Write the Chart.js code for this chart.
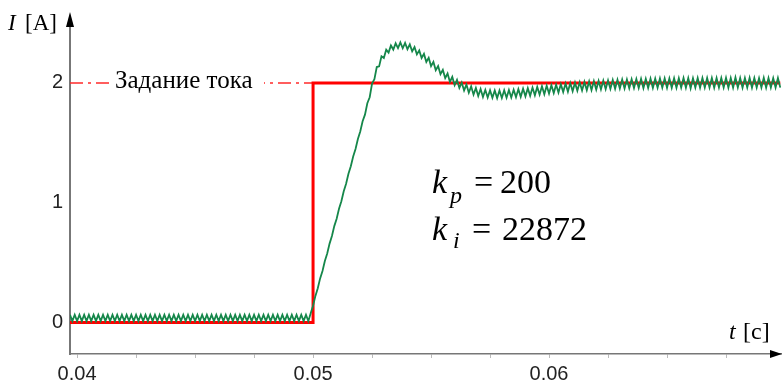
<!DOCTYPE html>
<html>
<head>
<meta charset="utf-8">
<script src="https://cdn.jsdelivr.net/npm/chart.js@4.4.1/dist/chart.umd.min.js"></script>
<style>
  html, body { margin: 0; padding: 0; background: #fff; }
  #wrap { width: 782px; height: 387px; }
</style>
</head>
<body>
<div id="wrap"><canvas id="currentChart" width="782" height="387"></canvas></div>
<script>
// Step response of the current loop (time in ms, current in A)

const timeMs = [
  39.7,39.8,39.9,40.0,40.1,40.2,40.3,40.4,40.5,40.6,
  40.7,40.8,40.9,41.0,41.1,41.2,41.3,41.4,41.5,41.6,
  41.7,41.8,41.9,42.0,42.1,42.2,42.3,42.4,42.5,42.6,
  42.7,42.8,42.9,43.0,43.1,43.2,43.3,43.4,43.5,43.6,
  43.7,43.8,43.9,44.0,44.1,44.2,44.3,44.4,44.5,44.6,
  44.7,44.8,44.9,45.0,45.1,45.2,45.3,45.4,45.5,45.6,
  45.7,45.8,45.9,46.0,46.1,46.2,46.3,46.4,46.5,46.6,
  46.7,46.8,46.9,47.0,47.1,47.2,47.3,47.4,47.5,47.6,
  47.7,47.8,47.9,48.0,48.1,48.2,48.3,48.4,48.5,48.6,
  48.7,48.8,48.9,49.0,49.1,49.2,49.3,49.4,49.5,49.6,
  49.7,49.8,49.9,50.0,50.1,50.2,50.3,50.4,50.5,50.6,
  50.7,50.8,50.9,51.0,51.1,51.2,51.3,51.4,51.5,51.6,
  51.7,51.8,51.9,52.0,52.1,52.2,52.3,52.4,52.5,52.6,
  52.7,52.8,52.9,53.0,53.1,53.2,53.3,53.4,53.5,53.6,
  53.7,53.8,53.9,54.0,54.1,54.2,54.3,54.4,54.5,54.6,
  54.7,54.8,54.9,55.0,55.1,55.2,55.3,55.4,55.5,55.6,
  55.7,55.8,55.9,56.0,56.1,56.2,56.3,56.4,56.5,56.6,
  56.7,56.8,56.9,57.0,57.1,57.2,57.3,57.4,57.5,57.6,
  57.7,57.8,57.9,58.0,58.1,58.2,58.3,58.4,58.5,58.6,
  58.7,58.8,58.9,59.0,59.1,59.2,59.3,59.4,59.5,59.6,
  59.7,59.8,59.9,60.0,60.1,60.2,60.3,60.4,60.5,60.6,
  60.7,60.8,60.9,61.0,61.1,61.2,61.3,61.4,61.5,61.6,
  61.7,61.8,61.9,62.0,62.1,62.2,62.3,62.4,62.5,62.6,
  62.7,62.8,62.9,63.0,63.1,63.2,63.3,63.4,63.5,63.6,
  63.7,63.8,63.9,64.0,64.1,64.2,64.3,64.4,64.5,64.6,
  64.7,64.8,64.9,65.0,65.1,65.2,65.3,65.4,65.5,65.6,
  65.7,65.8,65.9,66.0,66.1,66.2,66.3,66.4,66.5,66.6,
  66.7,66.8,66.9,67.0,67.1,67.2,67.3,67.4,67.5,67.6,
  67.7,67.8,67.9,68.0,68.1,68.2,68.3,68.4,68.5,68.6,
  68.7,68.8,68.9,69.0,69.1,69.2,69.3,69.4,69.5,69.6,
  69.7,69.8
];

const currentA = [
  0.065,0.012,0.065,0.012,0.065,0.012,0.065,0.012,0.065,0.012,
  0.065,0.012,0.065,0.012,0.065,0.012,0.065,0.012,0.065,0.012,
  0.065,0.012,0.065,0.012,0.065,0.012,0.065,0.012,0.065,0.012,
  0.065,0.012,0.065,0.012,0.065,0.012,0.065,0.012,0.065,0.012,
  0.065,0.012,0.065,0.012,0.065,0.012,0.065,0.012,0.065,0.012,
  0.065,0.012,0.065,0.012,0.065,0.012,0.065,0.012,0.065,0.012,
  0.065,0.012,0.065,0.012,0.065,0.012,0.065,0.012,0.065,0.012,
  0.065,0.012,0.065,0.012,0.065,0.012,0.065,0.012,0.065,0.012,
  0.065,0.012,0.065,0.012,0.065,0.012,0.065,0.012,0.065,0.012,
  0.065,0.012,0.065,0.012,0.065,0.012,0.065,0.012,0.065,0.012,
  0.065,0.012,0.078,0.14,0.223,0.286,0.369,0.431,0.514,0.577,
  0.659,0.722,0.805,0.867,0.95,1.013,1.095,1.158,1.241,1.304,
  1.386,1.449,1.532,1.595,1.68,1.735,1.83,1.88,1.995,2.03,
  2.132,2.138,2.222,2.208,2.277,2.253,2.312,2.278,2.33,2.29,
  2.338,2.289,2.334,2.281,2.321,2.263,2.299,2.238,2.271,2.208,
  2.242,2.174,2.209,2.14,2.175,2.106,2.141,2.072,2.108,2.04,
  2.078,2.008,2.05,1.981,2.025,1.958,2.003,1.937,1.986,1.918,
  1.971,1.902,1.958,1.891,1.949,1.883,1.942,1.878,1.938,1.875,
  1.937,1.873,1.937,1.874,1.939,1.876,1.941,1.878,1.943,1.881,
  1.948,1.884,1.952,1.888,1.956,1.892,1.961,1.897,1.966,1.902,
  1.972,1.906,1.977,1.911,1.981,1.915,1.985,1.919,1.989,1.923,
  1.994,1.926,1.998,1.93,2.002,1.934,2.005,1.937,2.008,1.94,
  2.012,1.941,2.015,1.944,2.017,1.946,2.019,1.948,2.021,1.95,
  2.024,1.951,2.026,1.953,2.028,1.954,2.029,1.956,2.03,1.957,
  2.032,1.957,2.033,1.957,2.034,1.958,2.035,1.959,2.035,1.96,
  2.037,1.96,2.038,1.959,2.038,1.96,2.039,1.96,2.039,1.961,
  2.04,1.96,2.04,1.955,2.039,1.961,2.04,1.96,2.041,1.961,
  2.04,1.961,2.041,1.96,2.04,1.962,2.041,1.961,2.042,1.96,
  2.04,1.961,2.045,1.962,2.041,1.96,2.04,1.961,2.042,1.96,
  2.041,1.962,2.04,1.961,2.042,1.96,2.041,1.962,2.04,1.961,
  2.04,1.961
];

// current set point (step at 50 ms)
const setTimeMs = [39.7, 50.0, 50.0, 69.8];
const setCurrentA = [0, 0, 2, 2];

// "Задание тока" dash-dot marker line
const refTimeMs = [39.7, 50.0];
const refCurrentA = [2, 2];

// axes
const xMinorMs = [40, 42.5, 45, 47.5, 50, 52.5, 55, 57.5, 60, 62.5, 65, 67.5];
const xMajorMs = [40, 50, 60];
const xMajorLabels = ['0.04', '0.05', '0.06'];
const yTicks = [0, 1, 2];

const gainKp = '200';
const gainKi = '22872';

const SERIF = '"Liberation Serif", "Times New Roman", serif';
const SANS = '"Liberation Sans", Arial, sans-serif';

function toPoints(xs, ys) {
  return xs.map((x, i) => ({ x: x, y: ys[i] }));
}

// arrows, axis titles and the text notes
const decorPlugin = {
  id: 'decor',
  afterDatasetsDraw(chart) {
    const ctx = chart.ctx;
    const ys = chart.scales.y;
    const area = chart.chartArea;

    ctx.save();

    // label on the set point line
    const y2 = ys.getPixelForValue(2);
    ctx.fillStyle = '#fff';
    ctx.fillRect(109, y2 - 16, 155, 30);
    ctx.fillStyle = '#000';
    ctx.font = '25px ' + SERIF;
    ctx.textBaseline = 'alphabetic';
    ctx.textAlign = 'left';
    ctx.fillText('Задание тока', 115, y2 + 5);

    // arrow heads
    ctx.fillStyle = '#000';
    ctx.beginPath();
    ctx.moveTo(area.left, 12);
    ctx.lineTo(area.left - 4, 27);
    ctx.lineTo(area.left + 4, 27);
    ctx.closePath();
    ctx.fill();

    ctx.beginPath();
    ctx.moveTo(782, area.bottom);
    ctx.lineTo(770, area.bottom - 4);
    ctx.lineTo(770, area.bottom + 4);
    ctx.closePath();
    ctx.fill();

    // axis titles
    ctx.font = 'italic 23px ' + SERIF;
    ctx.fillText('I', 8, 30);
    ctx.font = '23px ' + SERIF;
    ctx.fillText('[A]', 25, 30);

    ctx.font = 'italic 24px ' + SERIF;
    ctx.fillText('t', 729, 339);
    ctx.font = '24px ' + SERIF;
    ctx.fillText('[c]', 743, 339);

    // controller gains
    ctx.font = 'italic 34px ' + SERIF;
    ctx.fillText('k', 432, 193);
    ctx.fillText('k', 432, 240);
    ctx.font = 'italic 24px ' + SERIF;
    ctx.fillText('p', 450, 203);
    ctx.fillText('i', 453, 248);
    ctx.font = '34px ' + SERIF;
    ctx.fillText('=', 474, 193);
    ctx.fillText(gainKp, 500, 193);
    ctx.fillText('=', 472, 240);
    ctx.fillText(gainKi, 502, 240);

    ctx.restore();
  }
};

const ctx = document.getElementById('currentChart').getContext('2d');

const currentChart = new Chart(ctx, {
  type: 'line',
  data: {
    datasets: [{
      label: 'I',
      data: toPoints(timeMs, currentA),
      borderColor: '#15874a',
      borderWidth: 1.8,
      order: 0
    }, {
      label: 'set point',
      data: toPoints(setTimeMs, setCurrentA),
      borderColor: '#ff0000',
      borderWidth: 3,
      borderJoinStyle: 'miter',
      order: 1
    }, {
      label: 'Задание тока',
      data: toPoints(refTimeMs, refCurrentA),
      borderColor: '#ff2a2a',
      borderWidth: 1.5,
      borderDash: [13, 5, 3, 5],
      order: 2
    }]
  },
  options: {
    responsive: false,
    animation: false,
    devicePixelRatio: 1,
    layout: { padding: { top: 13, right: 1, left: 0, bottom: 0 } },
    elements: {
      point: { radius: 0 },
      line: { tension: 0, fill: false }
    },
    plugins: {
      legend: { display: false },
      tooltip: { enabled: false }
    },
    scales: {
      x: {
        type: 'linear',
        min: 39.7,
        max: 69.83,
        afterFit: (s) => { s.height = 33; },
        afterBuildTicks: (s) => { s.ticks = xMinorMs.map(v => ({ value: v })); },
        border: { color: '#777', width: 1.5 },
        grid: { drawOnChartArea: false, drawTicks: true, tickLength: 4, color: '#bbb' },
        ticks: {
          autoSkip: false,
          maxRotation: 0,
          padding: 4,
          color: '#222',
          font: { family: SANS, size: 20 },
          callback: (v) => {
            const i = xMajorMs.indexOf(v);
            return i >= 0 ? xMajorLabels[i] : '';
          }
        }
      },
      y: {
        min: -0.262,
        max: 2.533,
        afterFit: (s) => { s.width = 70; },
        afterBuildTicks: (s) => { s.ticks = yTicks.map(v => ({ value: v })); },
        border: { color: '#777', width: 2 },
        grid: { drawOnChartArea: false, drawTicks: false },
        ticks: {
          padding: 7,
          color: '#222',
          font: { family: SANS, size: 20 }
        }
      }
    }
  },
  plugins: [decorPlugin]
});
</script>
</body>
</html>
